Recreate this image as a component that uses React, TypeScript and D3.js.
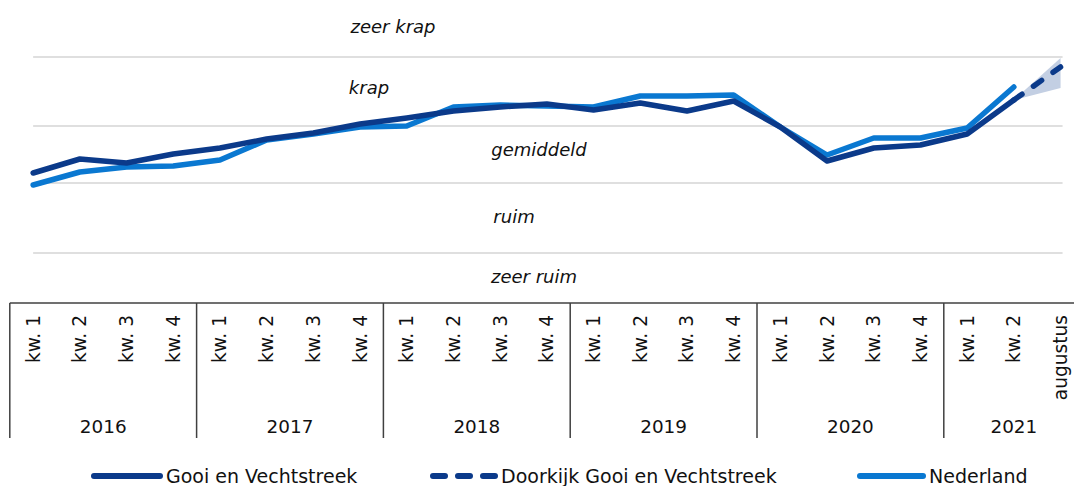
import * as d3 from "d3";

// quarters per year, plus the August forecast point
const years = ["2016", "2017", "2018", "2019", "2020", "2021"];
const yearCounts = [4, 4, 4, 4, 4, 3];
const tickLabels = [
  "kw. 1", "kw. 2", "kw. 3", "kw. 4",
  "kw. 1", "kw. 2", "kw. 3", "kw. 4",
  "kw. 1", "kw. 2", "kw. 3", "kw. 4",
  "kw. 1", "kw. 2", "kw. 3", "kw. 4",
  "kw. 1", "kw. 2", "kw. 3", "kw. 4",
  "kw. 1", "kw. 2", "augustus",
];

// index values
const gooi = [
  13.0, 14.4, 14.0, 14.9, 15.5, 16.4, 17.0, 17.9, 18.5, 19.2, 19.6,
  19.9, 19.3, 20.0, 19.2, 20.2, 17.6, 14.2, 15.5, 15.8, 16.9, 20.3,
];
const nederland = [
  11.8, 13.1, 13.6, 13.7, 14.3, 16.3, 16.9, 17.6, 17.7, 19.6, 19.8,
  19.7, 19.6, 20.7, 20.7, 20.8, 17.6, 14.8, 16.5, 16.5, 17.5, 21.6,
];
const doorkijk = [20.3, 23.6];
const doorkijkLow = [20.3, 21.5];
const doorkijkHigh = [20.3, 24.5];

// band boundaries and labels (bottom to top)
const bandEdges = [0, 5, 12, 17.7, 24.6, 30.3];
const bandLabels = ["zeer ruim", "ruim", "gemiddeld", "krap", "zeer krap"];
const bandLabelX = [534, 514, 539, 369, 393];
const bandLabelNudge = [-2, -2, -5, -4, -2];

const W = 1074;
const H = 486;
const DARK = "#0b3a8a";
const LIGHT = "#0a78d1";
const FONT = "Verdana, DejaVu Sans, sans-serif";

export default function App() {
  const axisTop = 303;
  const x = d3
    .scaleBand<number>()
    .domain(d3.range(tickLabels.length))
    .range([9.8, 9.8 + 46.7 * tickLabels.length]);
  const cx = (i: number) => (x(i) as number) + x.bandwidth() / 2;
  const y = d3.scaleLinear().domain([0, 30.3]).range([axisTop, 0]);

  const line = d3
    .line<number>()
    .x((_, i) => cx(i))
    .y((d) => y(d));
  const dashLine = d3
    .line<number>()
    .x((_, i) => cx(i + gooi.length - 1))
    .y((d) => y(d));
  const cone = d3
    .area<number>()
    .x((_, i) => cx(i + gooi.length - 1))
    .y0((_, i) => y(doorkijkLow[i]))
    .y1((d) => y(d));

  const gridX0 = cx(0);
  const gridX1 = cx(tickLabels.length - 1) + 2;

  // year separators
  let acc = 0;
  const yearBounds = yearCounts.map((c) => {
    const start = acc;
    acc += c;
    return { start, end: acc };
  });

  return (
    <svg
      width={W}
      height={H}
      style={{ position: "absolute", left: 0, top: 0, background: "#fff" }}
      fontFamily={FONT}
    >
      {/* band grid lines */}
      {bandEdges.slice(1, -1).map((v, i) => (
        <line
          key={i}
          x1={gridX0}
          x2={gridX1}
          y1={y(v)}
          y2={y(v)}
          stroke="#d4d4d4"
          strokeWidth={1.5}
        />
      ))}
      {bandLabels.map((t, i) => (
        <text
          key={t}
          x={bandLabelX[i]}
          y={(y(bandEdges[i]) + y(bandEdges[i + 1])) / 2 + bandLabelNudge[i]}
          fontSize={18}
          fontStyle="italic"
          textAnchor="middle"
          dominantBaseline="central"
          fill="#111"
        >
          {t}
        </text>
      ))}

      {/* forecast cone */}
      <path d={cone(doorkijkHigh) ?? ""} fill="#c3cfe3" />
      <path
        d={line(nederland) ?? ""}
        fill="none"
        stroke={LIGHT}
        strokeWidth={5.5}
        strokeLinecap="round"
        strokeLinejoin="round"
      />
      <path
        d={line(gooi) ?? ""}
        fill="none"
        stroke={DARK}
        strokeWidth={5.5}
        strokeLinecap="round"
        strokeLinejoin="round"
      />
      <path
        d={dashLine(doorkijk) ?? ""}
        fill="none"
        stroke={DARK}
        strokeWidth={5.5}
        strokeLinecap="round"
        strokeDasharray="10 14"
      />

      {/* category axis */}
      <line x1={9.8} x2={W} y1={axisTop} y2={axisTop} stroke="#404040" strokeWidth={1.5} />
      {yearBounds.map((b, i) => (
        <line
          key={"s" + i}
          x1={x(b.start) as number}
          x2={x(b.start) as number}
          y1={axisTop}
          y2={438}
          stroke="#404040"
          strokeWidth={1.5}
        />
      ))}
      {tickLabels.map((t, i) => (
        <text
          key={"t" + i}
          transform={`translate(${cx(i)},315) rotate(-90)`}
          textAnchor="end"
          dy="0.35em"
          fontSize={18.6}
          fill="#111"
        >
          {t}
        </text>
      ))}
      {yearBounds.map((b, i) => (
        <text
          key={"y" + i}
          x={((x(b.start) as number) + (x(b.end - 1) as number) + x.bandwidth()) / 2}
          y={433}
          fontSize={18.4}
          textAnchor="middle"
          fill="#111"
        >
          {years[i]}
        </text>
      ))}

      {/* legend */}
      <g fontSize={19}>
        <line x1={94} x2={160} y1={476} y2={476} stroke={DARK} strokeWidth={6} strokeLinecap="round" />
        <text x={166} y={476} dy="0.35em" fill="#111">
          Gooi en Vechtstreek
        </text>
        <line
          x1={433}
          x2={495}
          y1={476}
          y2={476}
          stroke={DARK}
          strokeWidth={6}
          strokeLinecap="round"
          strokeDasharray="12 13"
        />
        <text x={501} y={476} dy="0.35em" fill="#111">
          Doorkijk Gooi en Vechtstreek
        </text>
        <line x1={860} x2={923} y1={476} y2={476} stroke={LIGHT} strokeWidth={6} strokeLinecap="round" />
        <text x={929} y={476} dy="0.35em" fill="#111">
          Nederland
        </text>
      </g>
    </svg>
  );
}
